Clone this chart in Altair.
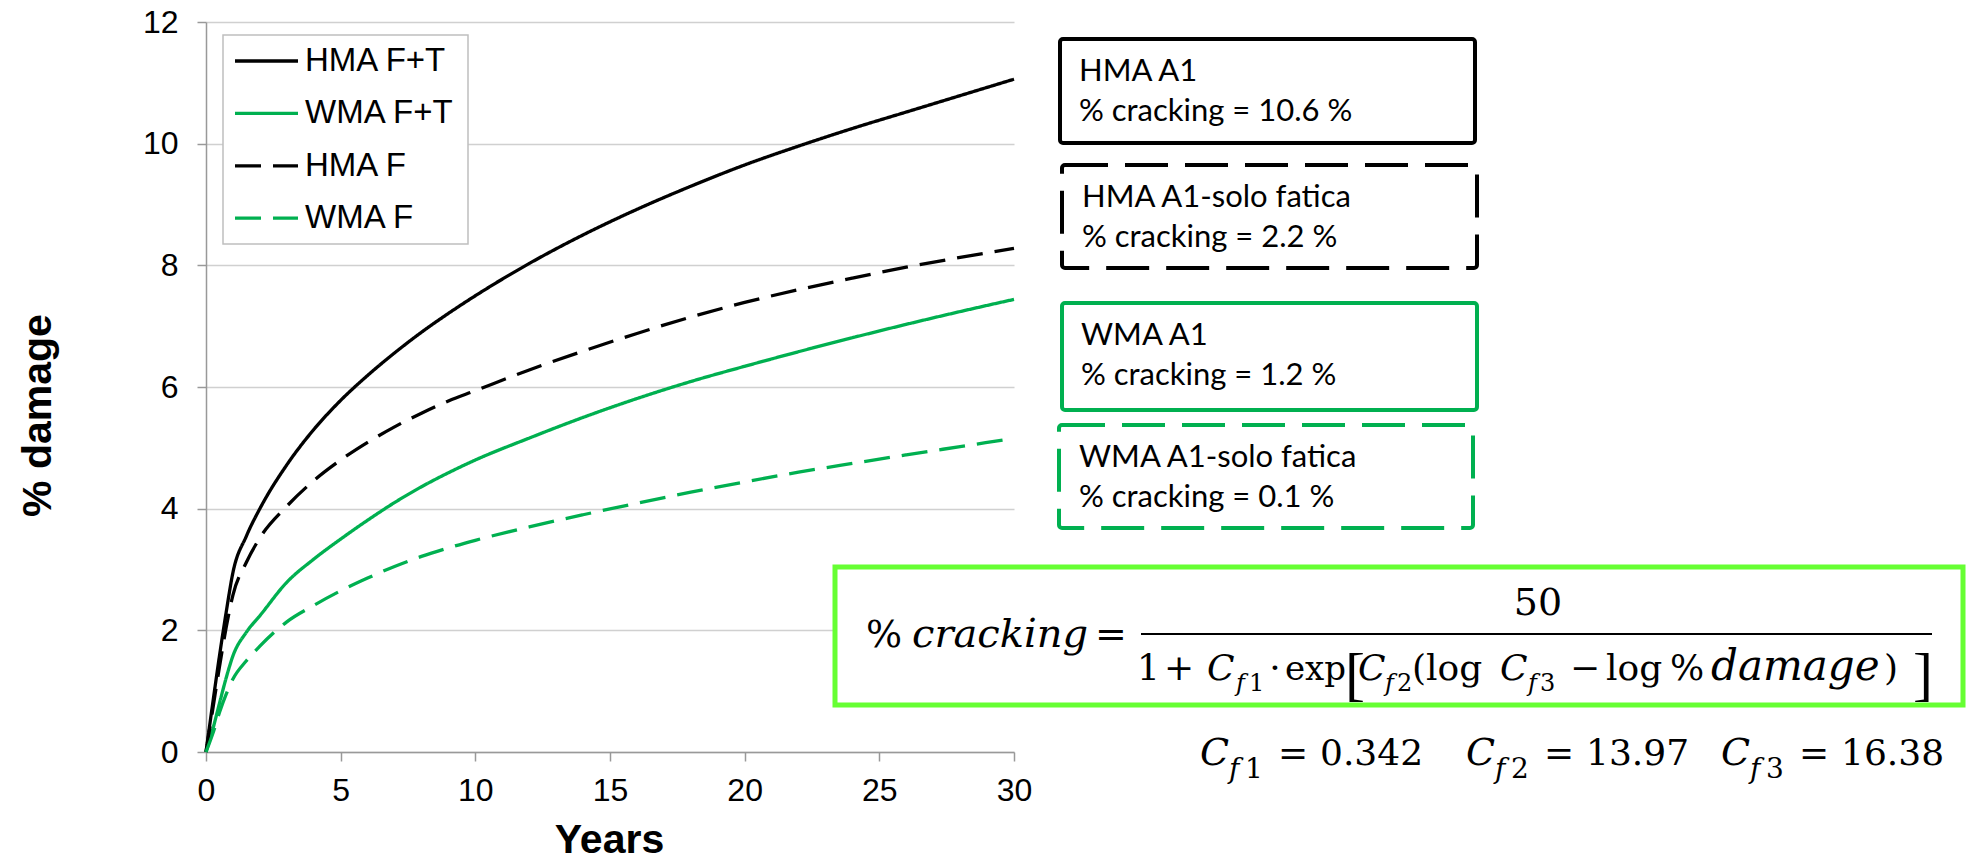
import altair as alt
import pandas as pd

# ---------------- data ----------------
years = [0, 0.25, 0.5, 0.75, 1, 1.5, 2, 3, 4, 5, 6, 7, 8, 9, 10, 12, 14, 16, 18, 20, 22, 24, 26, 28, 30]
hma_ft = [0, 0.8, 1.58, 2.3, 2.95, 3.55, 4.0, 4.72, 5.3, 5.78, 6.19, 6.56, 6.9, 7.21, 7.5, 8.03, 8.5, 8.92, 9.3, 9.65, 9.96, 10.25, 10.52, 10.79, 11.06]
wma_ft = [0, 0.37, 0.8, 1.22, 1.58, 1.97, 2.24, 2.79, 3.17, 3.5, 3.81, 4.1, 4.36, 4.59, 4.8, 5.16, 5.5, 5.81, 6.09, 6.34, 6.58, 6.81, 7.03, 7.24, 7.44]
hma_f = [0, 0.7, 1.4, 2.05, 2.58, 3.12, 3.52, 4.04, 4.46, 4.8, 5.09, 5.345, 5.57, 5.77, 5.94, 6.28, 6.59, 6.88, 7.15, 7.39, 7.6, 7.79, 7.97, 8.13, 8.28]
wma_f = [0, 0.3, 0.65, 0.95, 1.2, 1.5, 1.74, 2.14, 2.41, 2.65, 2.86, 3.05, 3.215, 3.355, 3.48, 3.7, 3.9, 4.09, 4.27, 4.44, 4.6, 4.744, 4.884, 5.02, 5.156]

series_names = ["HMA F+T", "WMA F+T", "HMA F", "WMA F"]
series_values = [hma_ft, wma_ft, hma_f, wma_f]
series_colors = ["#000000", "#00B050", "#000000", "#00B050"]
series_dash = [[1, 0], [1, 0], [26, 12], [26, 12]]

x_ticks = [0, 5, 10, 15, 20, 25, 30]
y_ticks = [0, 2, 4, 6, 8, 10, 12]

box_titles = ["HMA A1", "HMA A1-solo fatica", "WMA A1", "WMA A1-solo fatica"]
box_cracking = [10.6, 2.2, 1.2, 0.1]
cf_values = ["0.342", "13.97", "16.38"]

rows = []
for name, vals in zip(series_names, series_values):
    for yr, v in zip(years, vals):
        rows.append({"series": name, "Years": yr, "damage": v})
df = pd.DataFrame(rows)
one = pd.DataFrame({"k": [0]})

# page -> plot coordinates
OX, OY = 206, 22
W, H = 808, 730
SANS = "Liberation Sans"
SERIF = "DejaVu Serif"
THIN = "Liberation Serif"
BOXF = "Lato"


def txt(s, x, y, size, font=SERIF, style="normal", weight="normal",
        align="left", baseline="alphabetic", color="#000000"):
    return alt.Chart(one).mark_text(
        text=s, align=align, baseline=baseline, font=font, fontSize=size,
        fontStyle=style, fontWeight=weight, color=color
    ).encode(x=alt.value(x - OX), y=alt.value(y - OY))


def box(x1, y1, x2, y2, color, width, dash=None, fill="#ffffff", radius=3):
    kw = dict(stroke=color, strokeWidth=width, fill=fill, cornerRadius=radius)
    if dash is not None:
        kw["strokeDash"] = dash
    return alt.Chart(one).mark_rect(**kw).encode(
        x=alt.value(x1 - OX), x2=alt.value(x2 - OX),
        y=alt.value(y1 - OY), y2=alt.value(y2 - OY))


def hrule(x1, x2, y, color, width, dash=None):
    kw = dict(color=color, strokeWidth=width)
    if dash is not None:
        kw["strokeDash"] = dash
    return alt.Chart(one).mark_rule(**kw).encode(
        x=alt.value(x1 - OX), x2=alt.value(x2 - OX), y=alt.value(y - OY))


# ---------------- main lines ----------------
lines = alt.Chart(df).mark_line(strokeWidth=3.3, interpolate="monotone").encode(
    x=alt.X("Years:Q", scale=alt.Scale(domain=[0, 30], nice=False),
            axis=alt.Axis(values=x_ticks, grid=False, title="Years", labelPadding=14,
                          labelFlush=False, titleX=403, titleY=100,
                          titleAlign="center", titleBaseline="alphabetic")),
    y=alt.Y("damage:Q", scale=alt.Scale(domain=[0, 12], nice=False),
            axis=alt.Axis(values=y_ticks, grid=True, title="% damage", labelPadding=19,
                          labelFlush=False, titleX=-156, titleY=393, titleAngle=270,
                          titleAlign="center", titleBaseline="alphabetic")),
    color=alt.Color("series:N", scale=alt.Scale(domain=series_names, range=series_colors), legend=None),
    strokeDash=alt.StrokeDash("series:N", scale=alt.Scale(domain=series_names, range=series_dash), legend=None),
)

layers = [lines]

# ---------------- manual legend ----------------
layers.append(box(223, 35, 468, 244, "#BFBFBF", 1.5, radius=0))
for i, (name, col, dsh) in enumerate(zip(series_names, series_colors, series_dash)):
    yy = 61 + i * 52.4
    layers.append(hrule(235, 298, yy, col, 3.3, dsh))
    layers.append(txt(name, 305, yy, 33, font=SANS, baseline="middle"))

# ---------------- result boxes ----------------
box_geo = [(1060, 39, 1475, 143), (1062, 165, 1477, 268), (1062, 303, 1477, 410), (1059, 425, 1473, 528)]
box_col = ["#000000", "#000000", "#00B050", "#00B050"]
box_dash = [None, [43, 17], None, [43, 17]]
box_text_x = [1079, 1082, 1081, 1079]
for (x1, y1, x2, y2), c, d, tx, t, v in zip(box_geo, box_col, box_dash, box_text_x, box_titles, box_cracking):
    layers.append(box(x1, y1, x2, y2, c, 4, d))
    layers.append(txt(t, tx, y1 + 42, 31, font=BOXF))
    layers.append(txt(f"% cracking = {v} %", tx, y1 + 82, 31, font=BOXF))

# ---------------- formula ----------------
layers.append(box(835, 567, 1963, 705, "#66FF33", 5, radius=0))
# left side
layers.append(txt("%", 866, 647, 38))
layers.append(txt("cracking", 912, 647, 40, style="italic"))
layers.append(txt("=", 1095, 647, 38))
# numerator and bar
layers.append(txt("50", 1538, 615, 38, align="center"))
layers.append(hrule(1141, 1932, 634, "#000000", 2))
# denominator
BL, SB = 680, 691
layers += [
    txt("1", 1137, BL, 36),
    txt("+", 1164, BL, 36),
    txt("C", 1207, BL, 36, style="italic"),
    txt("f", 1236, SB, 24, style="italic"),
    txt("1", 1249, SB, 24),
    txt("·", 1275, BL, 36, align="center"),
    txt("exp", 1285, BL, 34),
    txt("[", 1345, 694, 60, font=THIN),
    txt("C", 1358, BL, 36, style="italic"),
    txt("f", 1385, SB, 24, style="italic"),
    txt("2", 1397, SB, 24),
    txt("(log", 1412, BL, 36),
    txt("C", 1500, BL, 36, style="italic"),
    txt("f", 1528, SB, 24, style="italic"),
    txt("3", 1540, SB, 24),
    txt("\u2212", 1570, BL, 36),
    txt("log", 1606, BL, 36),
    txt("%", 1670, BL, 36),
    txt("damage", 1711, BL, 42, style="italic"),
    txt(")", 1884, BL, 36),
    txt("]", 1913, 694, 60, font=THIN),
]

# constants line
CB, CS = 765, 778
for i, cx in enumerate([1200, 1466, 1721]):
    layers += [
        txt("C", cx, CB, 38, style="italic"),
        txt("f", cx + 29, CS, 28, style="italic"),
        txt(str(i + 1), cx + 45, CS, 28),
        txt("=", cx + 78, CB, 36),
        txt(cf_values[i], cx + 120, CB, 36),
    ]

chart = alt.layer(*layers).properties(
    width=W, height=H,
    padding={"left": 198, "top": 14, "right": 954, "bottom": 103},
    autosize=alt.AutoSizeParams(type="none"),
    background="#ffffff",
).configure_axis(
    labelFont=SANS, labelFontSize=32, labelColor="#000000",
    titleFont=SANS, titleFontSize=41, titleFontWeight="bold", titleColor="#000000",
    domainColor="#999999", domainWidth=1.5, tickColor="#999999", tickWidth=1.5, tickSize=9,
    gridColor="#d0d0d0", gridWidth=1.5,
).configure_view(strokeWidth=0)

chart.save("out.html", embed_options={"renderer": "svg", "actions": False})
